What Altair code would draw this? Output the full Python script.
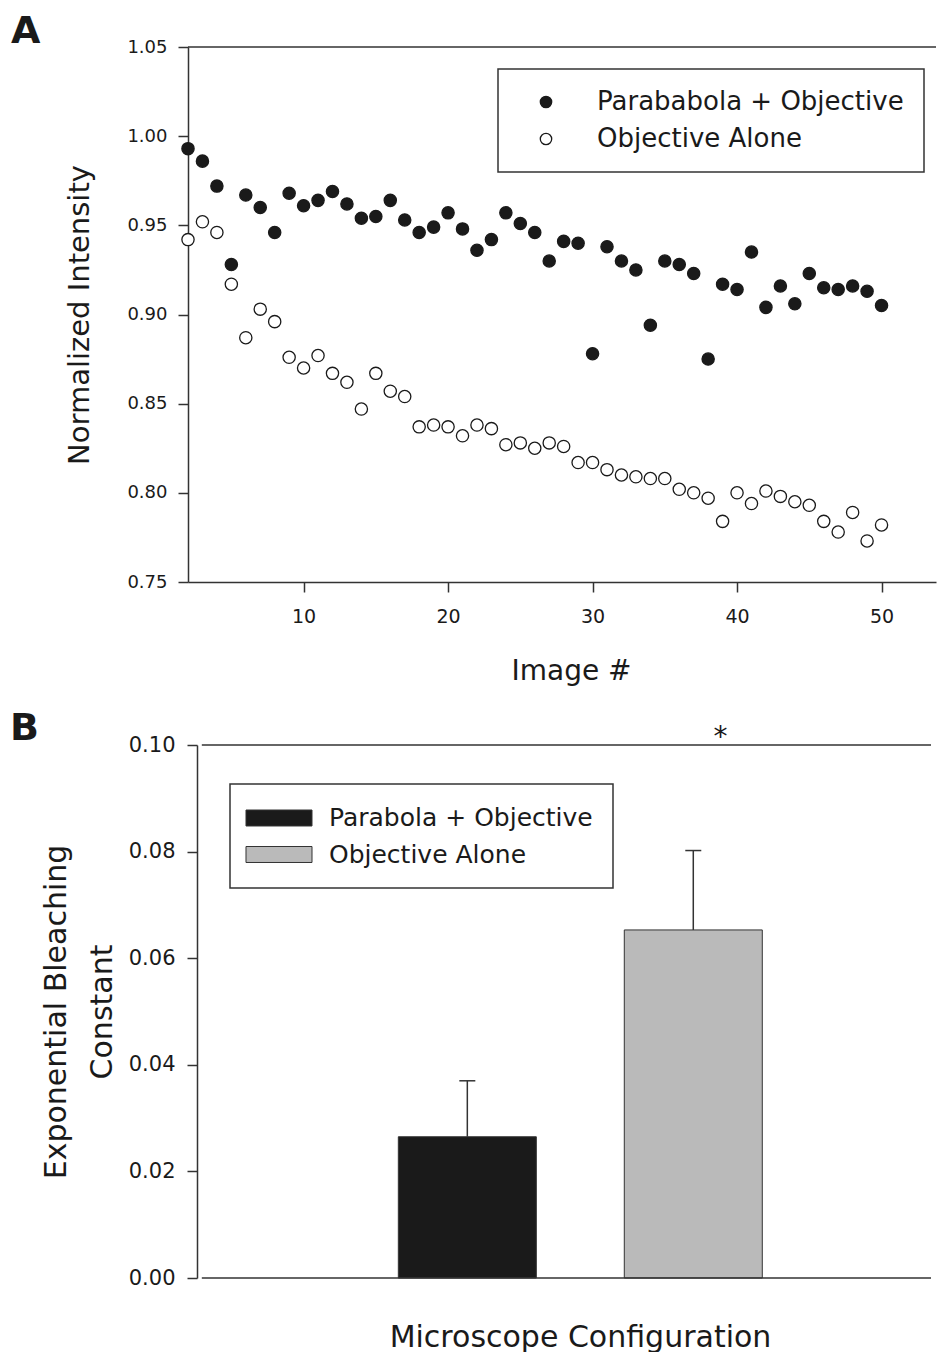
import altair as alt
import pandas as pd

FONT = "DejaVu Sans"
INK = "#1a1a1a"
LINE = "#333333"

# ---------------- Panel A data ----------------
image_num = list(range(2, 51))
parabola_objective = [
    0.993, 0.986, 0.972, 0.928, 0.967, 0.960, 0.946, 0.968, 0.961, 0.964,
    0.969, 0.962, 0.954, 0.955, 0.964, 0.953, 0.946, 0.949, 0.957, 0.948,
    0.936, 0.942, 0.957, 0.951, 0.946, 0.930, 0.941, 0.940, 0.878, 0.938,
    0.930, 0.925, 0.894, 0.930, 0.928, 0.923, 0.875, 0.917, 0.914, 0.935,
    0.904, 0.916, 0.906, 0.923, 0.915, 0.914, 0.916, 0.913, 0.905,
]
objective_alone = [
    0.942, 0.952, 0.946, 0.917, 0.887, 0.903, 0.896, 0.876, 0.870, 0.877,
    0.867, 0.862, 0.847, 0.867, 0.857, 0.854, 0.837, 0.838, 0.837, 0.832,
    0.838, 0.836, 0.827, 0.828, 0.825, 0.828, 0.826, 0.817, 0.817, 0.813,
    0.810, 0.809, 0.808, 0.808, 0.802, 0.800, 0.797, 0.784, 0.800, 0.794,
    0.801, 0.798, 0.795, 0.793, 0.784, 0.778, 0.789, 0.773, 0.782,
]
series_names = ["Parababola + Objective", "Objective Alone"]
a_y_ticks = [0.75, 0.80, 0.85, 0.90, 0.95, 1.00, 1.05]
a_x_ticks = [10, 20, 30, 40, 50]

# ---------------- Panel B data ----------------
configs = ["Parabola + Objective", "Objective Alone"]
config_pos = [1, 2]
bleach_const = [0.0265, 0.0653]
bleach_err = [0.0105, 0.0149]
b_y_ticks = [0.00, 0.02, 0.04, 0.06, 0.08, 0.10]
sig_x = [2.12]
sig_y = [0.10]
sig_text = ["*"]

# ---------------- tables ----------------
dfA = pd.DataFrame({
    "image": image_num + image_num,
    "value": objective_alone + parabola_objective,
    "series": [series_names[1]] * len(image_num) + [series_names[0]] * len(image_num),
})
dfB = pd.DataFrame({
    "config": configs,
    "pos": config_pos,
    "mean": bleach_const,
    "top": [m + e for m, e in zip(bleach_const, bleach_err)],
})
dfStar = pd.DataFrame({"x": sig_x, "y": sig_y, "t": sig_text})
one = pd.DataFrame({"k": [0]})

A_W, A_H = 748, 535
A_XDOM = [2, 53.77]
A_YDOM = [0.75, 1.05]

B_W, B_H = 748, 533
B_XDOM = [-0.214, 3.052]
B_YDOM = [0.0, 0.10]
B_AXIS_AT = -0.175

ax_common = dict(
    domainColor=LINE, domainWidth=1.5, tickColor=LINE, tickWidth=1.5,
    labelFont=FONT, titleFont=FONT, labelColor=INK, titleColor=INK,
    titleFontWeight="normal", grid=False,
)

xA = alt.X("image:Q", scale=alt.Scale(domain=A_XDOM, nice=False, zero=False),
           axis=alt.Axis(values=a_x_ticks, title="Image #", tickSize=10,
                         labelPadding=15, labelFontSize=19, titleFontSize=28,
                         titlePadding=31, titleX=383, **ax_common))
yA = alt.Y("value:Q", scale=alt.Scale(domain=A_YDOM, nice=False, zero=False),
           axis=alt.Axis(values=a_y_ticks, format=".2f", title="Normalized Intensity",
                         tickSize=10, labelPadding=11, labelFontSize=18,
                         titleFontSize=29, titlePadding=32, **ax_common))

legendA = alt.Legend(
    title=None, orient="none", legendX=310, legendY=22, padding=20,
    strokeColor=LINE, fillColor="white", symbolType="circle", symbolSize=130,
    symbolOffset=15, labelOffset=38, labelFontSize=26, labelFont=FONT,
    labelColor=INK, rowPadding=11, symbolStrokeColor=INK, symbolStrokeWidth=1.3,
    labelLimit=500,
)

pointsA = alt.Chart(dfA).mark_point(
    shape="circle", size=150, strokeWidth=1.3, opacity=1, filled=True,
    stroke=INK, clip=False,
).encode(
    x=xA, y=yA,
    fill=alt.Fill("series:N", scale=alt.Scale(domain=series_names, range=[INK, "white"]),
                  legend=legendA),
)

topA = alt.Chart(one).mark_rule(color=LINE, strokeWidth=1.5).encode(
    x=alt.datum(A_XDOM[0]), x2=alt.datum(A_XDOM[1]), y=alt.datum(A_YDOM[1]),
)
labelA = alt.Chart(one).mark_text(
    text="A", font=FONT, fontSize=38, fontWeight="bold", color=INK,
    align="left", baseline="alphabetic", clip=False,
).encode(x=alt.value(-177), y=alt.value(-4))

panelA = alt.layer(topA, pointsA, labelA).properties(width=A_W, height=A_H)

# ---------------- Panel B ----------------
xB = alt.X("pos:Q", scale=alt.Scale(domain=B_XDOM, nice=False, zero=False),
           axis=alt.Axis(title="Microscope Configuration", labels=False, ticks=False,
                         domain=False, titleFontSize=30, titlePadding=44,
                         titleX=392, **ax_common))
yB = alt.Y("mean:Q", scale=alt.Scale(domain=B_YDOM, nice=False),
           axis=alt.Axis(values=b_y_ticks, format=".2f",
                         title=["Exponential Bleaching", "Constant"],
                         tickSize=10, labelPadding=12, labelFontSize=21,
                         titleFontSize=30, titleLineHeight=46, titlePadding=11,
                         offset=-9, **ax_common))

legendB = alt.Legend(
    title=None, orient="none", legendX=42, legendY=39, padding=20,
    strokeColor=LINE, fillColor="white",
    symbolType="M-2.5,-0.606L2.5,-0.606L2.5,0.606L-2.5,0.606Z", symbolSize=697,
    symbolOffset=15, labelOffset=36, labelFontSize=25, labelFont=FONT,
    labelColor=INK, rowPadding=9.5, symbolStrokeColor=LINE, symbolStrokeWidth=1,
    labelLimit=500,
)

barsB = alt.Chart(dfB).mark_bar(size=138, stroke=LINE, strokeWidth=1).encode(
    x=xB, y=yB,
    fill=alt.Fill("config:N", scale=alt.Scale(domain=configs, range=[INK, "#bababa"]),
                  legend=legendB),
)
whiskB = alt.Chart(dfB).mark_rule(color=LINE, strokeWidth=1.5).encode(
    x="pos:Q", y="mean:Q", y2="top:Q",
)
capB = alt.Chart(dfB).mark_rule(color=LINE, strokeWidth=1.5, xOffset=-8, x2Offset=8).encode(
    x="pos:Q", x2="pos:Q", y="top:Q",
)
topB = alt.Chart(one).mark_rule(color=LINE, strokeWidth=1.5).encode(
    x=alt.datum(B_AXIS_AT), x2=alt.datum(B_XDOM[1]), y=alt.datum(B_YDOM[1]),
)
botB = alt.Chart(one).mark_rule(color=LINE, strokeWidth=1.5).encode(
    x=alt.datum(B_AXIS_AT), x2=alt.datum(B_XDOM[1]), y=alt.datum(B_YDOM[0]),
)
starB = alt.Chart(dfStar).mark_text(
    fontSize=28, font=FONT, color=INK, baseline="alphabetic", dy=1, clip=False,
).encode(x="x:Q", y="y:Q", text="t:N")
labelB = alt.Chart(one).mark_text(
    text="B", font=FONT, fontSize=38, fontWeight="bold", color=INK,
    align="left", baseline="alphabetic", clip=False,
).encode(x=alt.value(-178), y=alt.value(-5))

panelB = alt.layer(barsB, whiskB, capB, topB, botB, starB, labelB).properties(
    width=B_W, height=B_H,
)

chart = alt.vconcat(panelA, panelB, spacing=25).resolve_scale(
    fill="independent"
).resolve_legend(fill="independent").properties(
    padding={"left": 2, "top": 5, "right": 0, "bottom": 0},
).configure_view(stroke=None).configure_legend(strokeWidth=1.5)

chart.save("out.html", embed_options={"renderer": "svg", "actions": False})
